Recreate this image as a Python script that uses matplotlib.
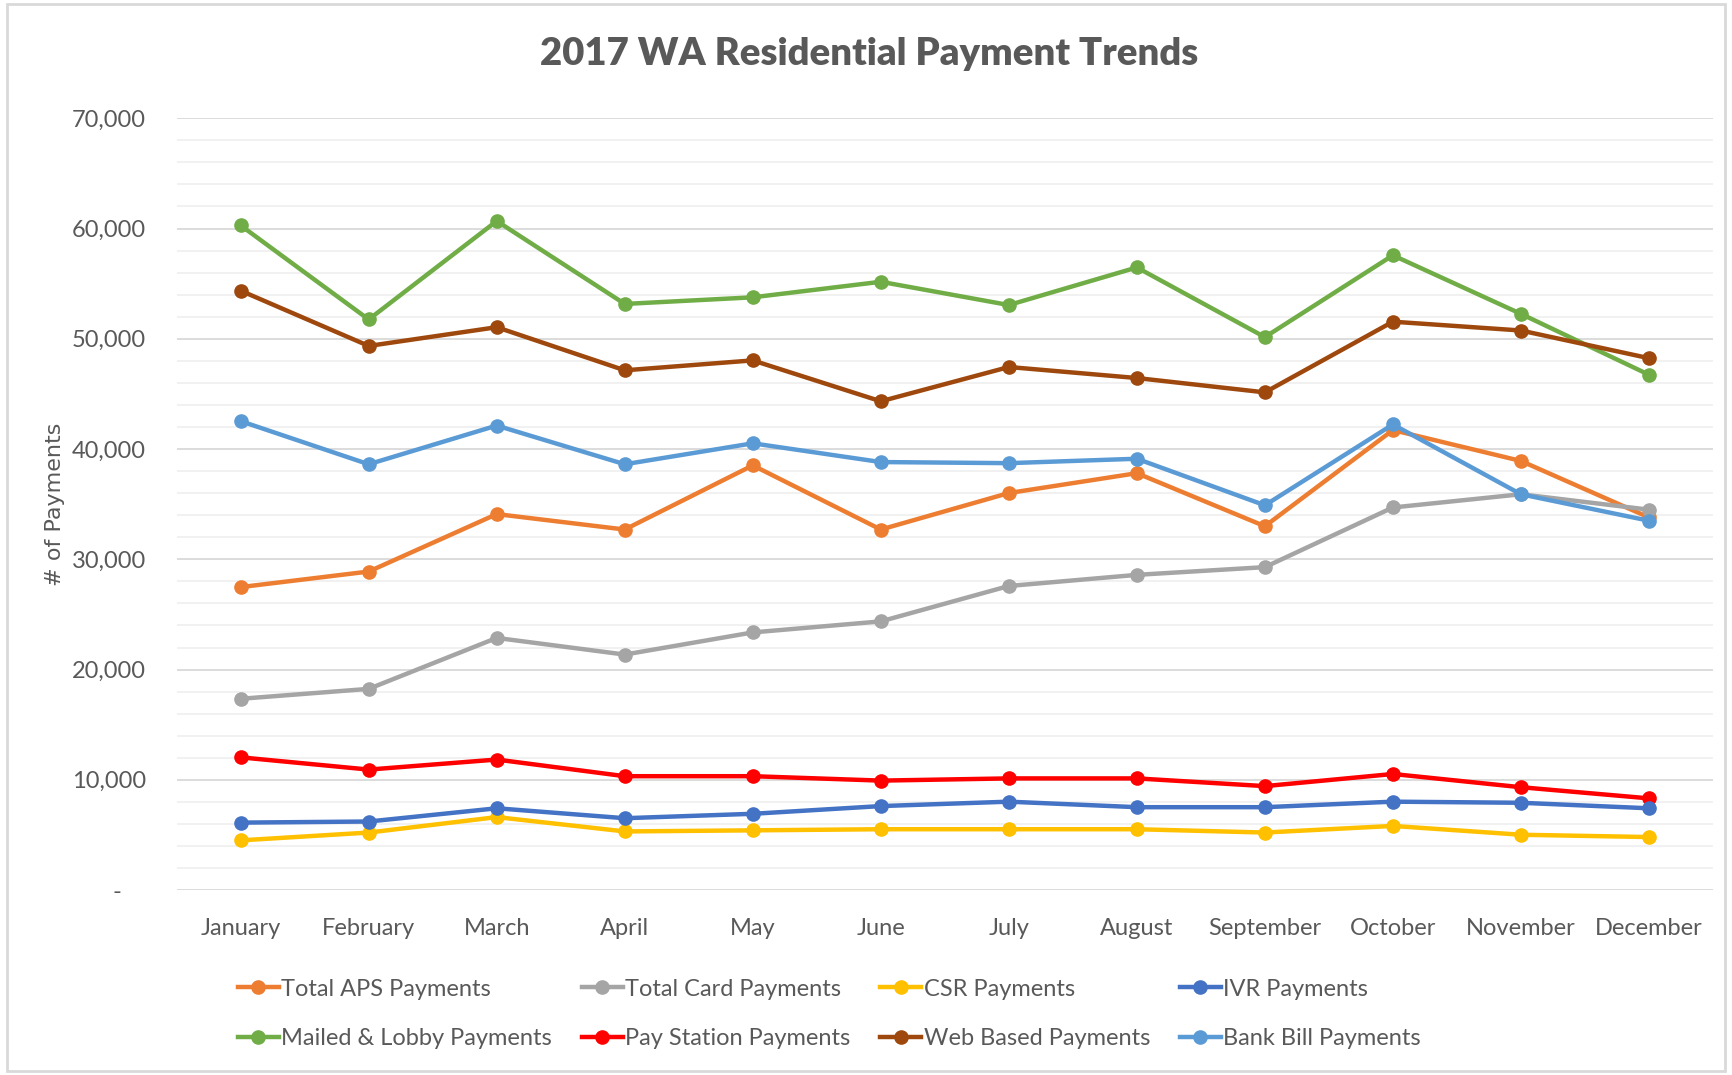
import numpy as np
import matplotlib
matplotlib.use('Agg')
import matplotlib.pyplot as plt
from matplotlib.ticker import FuncFormatter, MultipleLocator
from matplotlib.patches import Rectangle

months = ['January', 'February', 'March', 'April', 'May', 'June', 'July',
          'August', 'September', 'October', 'November', 'December']

total_aps = [27480, 28890, 34100, 32700, 38520, 32700, 36010, 37810, 33000, 41720, 38920, 33800]
total_card = [17350, 18250, 22870, 21360, 23370, 24370, 27580, 28590, 29290, 34700, 35900, 34500]
csr = [4510, 5220, 6620, 5320, 5420, 5520, 5520, 5520, 5220, 5820, 5020, 4810]
ivr = [6120, 6220, 7420, 6520, 6920, 7620, 8020, 7520, 7520, 8020, 7920, 7420]
mailed_lobby = [60280, 51750, 60680, 53160, 53760, 55170, 53060, 56470, 50150, 57570, 52260, 46740]
pay_station = [12040, 10930, 11840, 10330, 10330, 9930, 10130, 10130, 9430, 10530, 9330, 8320]
web_based = [54360, 49350, 51050, 47140, 48040, 44330, 47440, 46440, 45140, 51550, 50750, 48240]
bank_bill = [42530, 38620, 42130, 38620, 40520, 38820, 38720, 39120, 34900, 42230, 35900, 33500]

# order chosen so the 4-column legend fills like the original
series = [
    ('Total APS Payments', total_aps, '#ED7D31'),
    ('Mailed & Lobby Payments', mailed_lobby, '#70AD47'),
    ('Total Card Payments', total_card, '#A5A5A5'),
    ('Pay Station Payments', pay_station, '#FF0000'),
    ('CSR Payments', csr, '#FFC000'),
    ('Web Based Payments', web_based, '#9E480E'),
    ('IVR Payments', ivr, '#4472C4'),
    ('Bank Bill Payments', bank_bill, '#5B9BD5'),
]

plt.rcParams['font.family'] = ['Lato', 'DejaVu Sans']
text_color = '#595959'

fig = plt.figure(figsize=(17.32, 10.75), dpi=100)
ax = fig.add_axes([0.102, 0.172, 0.887, 0.718])

x = np.arange(len(months))
for name, vals, col in series:
    ax.plot(x, vals, color=col, lw=3.2, marker='o', markersize=9.5, label=name)

ax.set_xlim(-0.5, len(months) - 0.5)
ax.set_ylim(0, 70000)
ax.yaxis.set_major_locator(MultipleLocator(10000))
ax.yaxis.set_minor_locator(MultipleLocator(2000))
ax.yaxis.set_major_formatter(FuncFormatter(lambda v, p: '-    ' if v == 0 else f'{int(v):,}'))
ax.grid(which='major', axis='y', color='#d9d9d9', lw=1.3)
ax.grid(which='minor', axis='y', color='#f0f0f0', lw=1.3)
ax.set_axisbelow(True)
for s in ax.spines.values():
    s.set_visible(False)
ax.tick_params(axis='both', which='both', length=0)
ax.tick_params(axis='y', pad=22, labelsize=17, labelcolor=text_color)
ax.tick_params(axis='x', pad=20, labelsize=17, labelcolor=text_color)
ax.set_xticks(x)
ax.set_xticklabels(months)

ax.set_ylabel('# of Payments', fontsize=16, color=text_color, family='DejaVu Sans')
ax.yaxis.set_label_coords(-0.073, 0.5)

fig.text(0.502, 0.950, '2017 WA Residential Payment Trends', ha='center', va='center',
         fontsize=27.5, fontweight='heavy', color=text_color)

leg = fig.legend(loc='center left', bbox_to_anchor=(0.125, 0.057), ncol=4, frameon=False,
                 fontsize=17, handlelength=1.75, handletextpad=0.1, columnspacing=1.25,
                 labelspacing=1.2, labelcolor=text_color)

fig.patches.append(Rectangle((0.004, 0.004), 0.992, 0.992, transform=fig.transFigure,
                             fill=False, edgecolor='#d9d9d9', lw=2))

fig.savefig('out.png', dpi=100)
